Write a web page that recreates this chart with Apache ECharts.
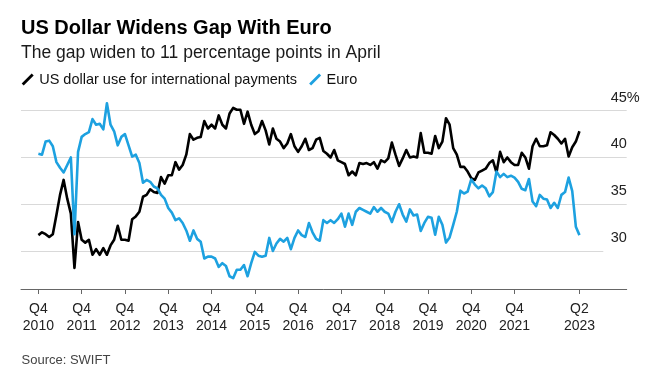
<!DOCTYPE html>
<html><head><meta charset="utf-8">
<script src="https://cdn.jsdelivr.net/npm/echarts@6/dist/echarts.min.js"></script>
<style>html,body{margin:0;padding:0;background:#fff}#c{width:658px;height:385px}</style>
</head><body><div id="c"></div>
<script>
// Monthly shares (%), Oct 2010 .. Apr 2023
const usd = [
31.7, 32.0, 31.8, 31.5, 31.8, 33.85, 36.0, 37.6, 35.6, 34.0,
28.2, 33.1, 31.2, 30.9, 31.2, 29.6, 30.2, 29.6, 30.3, 29.6,
30.6, 31.2, 32.7, 31.2, 31.2, 31.1, 33.4, 33.7, 34.2, 35.8,
36.0, 36.6, 36.3, 36.2, 37.9, 37.2, 38.1, 38.1, 39.5, 38.7,
39.2, 40.3, 42.5, 41.9, 42.1, 42.2, 43.9, 43.1, 43.5, 43.1,
44.5, 43.5, 43.1, 44.7, 45.3, 45.1, 45.1, 43.6, 44.9, 43.5,
42.5, 42.8, 43.9, 42.9, 41.4, 43.1, 42.0, 41.7, 41.0, 41.5,
42.5, 41.2, 40.6, 41.2, 42.0, 40.8, 41.0, 41.9, 42.1, 40.7,
40.4, 40.0, 40.8, 39.7, 39.5, 39.3, 38.1, 38.5, 38.1, 39.4,
39.3, 39.4, 39.2, 39.5, 38.8, 39.7, 39.5, 39.9, 41.6, 40.3,
39.1, 39.9, 40.8, 40.0, 40.1, 40.0, 42.6, 40.5, 40.5, 40.4,
42.3, 41.0, 41.7, 44.2, 43.5, 41.0, 40.3, 39.0, 39.0, 38.5,
37.8, 37.6, 38.4, 38.6, 38.8, 39.4, 39.7, 38.4, 40.6, 39.5,
40.0, 39.5, 39.2, 39.2, 40.5, 40.0, 38.8, 41.2, 42.0, 41.2,
41.2, 41.3, 42.7, 42.4, 42.0, 41.5, 42.0, 40.1, 41.1, 41.7,
42.8];
const eur = [
40.4, 40.3, 41.7, 41.8, 41.2, 39.5, 38.9, 38.4, 39.2, 40.0,
31.8, 40.6, 42.2, 42.5, 42.7, 44.1, 43.5, 43.6, 43.0, 45.8,
43.5, 42.8, 41.3, 42.2, 42.5, 41.3, 40.1, 40.3, 39.4, 37.3,
37.6, 37.4, 36.9, 36.7, 36.0, 35.6, 34.6, 34.1, 33.3, 33.5,
33.0, 32.2, 31.1, 32.2, 31.3, 31.0, 29.2, 29.4, 29.4, 29.2,
28.3, 28.7, 28.4, 27.3, 27.1, 28.0, 28.0, 28.5, 27.3, 28.7,
29.9, 29.5, 29.4, 29.5, 31.4, 30.0, 30.8, 31.3, 31.0, 31.4,
30.2, 31.4, 32.2, 31.7, 31.5, 33.0, 32.0, 31.3, 31.1, 33.3,
33.0, 33.3, 33.0, 33.4, 34.0, 32.6, 34.0, 32.8, 34.2, 34.6,
34.4, 34.2, 34.0, 34.7, 34.2, 34.6, 34.2, 34.0, 33.1, 34.2,
35.0, 33.9, 33.15, 34.45, 33.8, 33.9, 32.15, 33.0, 33.65, 33.55,
31.75, 33.65, 32.8, 30.9, 31.45, 32.8, 34.2, 36.45, 36.15, 36.35,
37.65, 37.1, 36.7, 37.0, 36.7, 35.85, 36.3, 38.5, 37.9, 38.25,
37.9, 38.05, 37.85, 37.4, 36.65, 36.5, 37.7, 35.3, 34.8, 36.0,
35.6, 35.5, 34.6, 35.15, 34.6, 36.0, 36.3, 37.85, 36.4, 32.6,
31.7];
const months = [];
for (let i = 0; i < usd.length; i++) { const m = 9 + i; months.push((2010 + Math.floor(m / 12)) + '-' + String(m % 12 + 1).padStart(2, '0')); }
const xTickIdx = [0, 12, 24, 36, 48, 60, 72, 84, 96, 108, 120, 132, 150];
const xTickLabels = ['Q4\n2010','Q4\n2011','Q4\n2012','Q4\n2013','Q4\n2014','Q4\n2015','Q4\n2016','Q4\n2017','Q4\n2018','Q4\n2019','Q4\n2020','Q4\n2021','Q2\n2023'];
const yTickValues = [30, 35, 40, 45];
const yTickLabels = ['30', '35', '40', '45%'];
const seriesNames = ['US dollar use for international payments', 'Euro'];

const chart = echarts.init(document.getElementById('c'), null, {renderer: 'canvas'});
const FONT = 'Liberation Sans';
const grid = '#d9d9d9';
chart.setOption({
  animation: false,
  backgroundColor: '#fff',
  textStyle: {fontFamily: FONT},
  title: [
    {text: 'US Dollar Widens Gap With Euro', left: 21, top: 18.7, padding: 0,
     textStyle: {fontSize: 20, fontWeight: 'bold', color: '#000', fontFamily: FONT}},
    {text: 'The gap widen to 11 percentage points in April', left: 21, top: 44.5, padding: 0,
     textStyle: {fontSize: 17.5, fontWeight: 'normal', color: '#1a1a1a', fontFamily: FONT}},
    {text: 'Source: SWIFT', left: 21.5, top: 353.7, padding: 0,
     textStyle: {fontSize: 13, fontWeight: 'normal', color: '#444', fontFamily: FONT}}
  ],
  legend: {
    left: 21.7, top: 72, padding: 0, itemWidth: 13, itemHeight: 12, itemGap: 12,
    icon: 'path://M0,10 L10,0 L12,2 L2,12 Z',
    textStyle: {fontSize: 14.5, color: '#111', fontFamily: FONT},
    data: seriesNames
  },
  grid: [
    {left: 21, right: 31.3, top: 101.35, bottom: 96},
    {left: 21, right: 31.3, top: 110.7, bottom: 180.7},
    {left: 21, right: 54.7, top: 110.7, bottom: 134}
  ],
  xAxis: [
    {gridIndex: 0, type: 'value', min: -4.82, max: 163.1,
     splitLine: {show: false},
     axisLine: {show: true, lineStyle: {color: '#666', width: 1}},
     axisTick: {show: true, customValues: xTickIdx, length: 5, lineStyle: {color: '#666'}},
     axisLabel: {customValues: xTickIdx, formatter: v => xTickLabels[xTickIdx.indexOf(v)] || '',
                 fontSize: 14, lineHeight: 17, color: '#222', margin: 12, fontFamily: FONT}},
    {gridIndex: 1, type: 'value', show: false, min: 0, max: 1},
    {gridIndex: 2, type: 'value', show: false, min: 0, max: 1}
  ],
  yAxis: [
    {gridIndex: 0, type: 'value', min: 25.94, max: 46, show: false},
    {gridIndex: 1, type: 'value', min: 35, max: 45, interval: 5, position: 'right',
     axisLine: {show: false}, axisTick: {show: false}, axisLabel: {show: false},
     splitLine: {show: true, lineStyle: {color: grid, width: 1}}},
    {gridIndex: 2, type: 'value', min: 30, max: 45, interval: 5, position: 'right',
     axisLine: {show: false}, axisTick: {show: false},
     axisLabel: {margin: 7.4, fontSize: 14.5, verticalAlign: 'bottom', lineHeight: 15, padding: [0, 0, 5.5, 0],
                 color: '#222', fontFamily: FONT,
                 formatter: v => yTickLabels[yTickValues.indexOf(v)] || ''},
     splitLine: {show: true, lineStyle: {color: grid, width: 1}}}
  ],
  series: [
    {name: seriesNames[0], type: 'line', xAxisIndex: 0, yAxisIndex: 0,
     data: usd.map((v, i) => [i, v]), showSymbol: false, clip: false, z: 3,
     lineStyle: {width: 2.6, color: '#000', join: 'round'}, itemStyle: {color: '#000'}},
    {name: seriesNames[1], type: 'line', xAxisIndex: 0, yAxisIndex: 0,
     data: eur.map((v, i) => [i, v]), showSymbol: false, clip: false, z: 3,
     lineStyle: {width: 2.6, color: '#1da1e0', join: 'round'}, itemStyle: {color: '#1da1e0'}}
  ]
});
</script></body></html>
